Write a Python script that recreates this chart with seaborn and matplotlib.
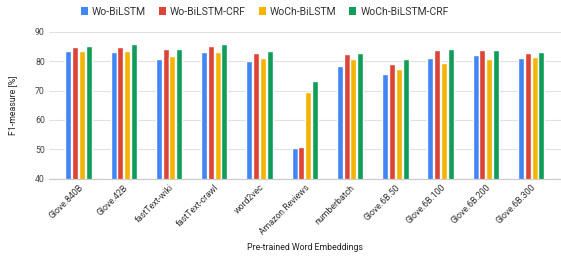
import matplotlib
matplotlib.use("Agg")
import matplotlib.pyplot as plt
import seaborn as sns
import pandas as pd
from matplotlib.patches import Patch

categories = ["Glove.840B", "Glove.42B", "fastText-wiki", "fastText-crawl", "word2vec",
              "Amazon Reviews", "numberbatch", "Glove.6B.50", "Glove.6B.100",
              "Glove.6B.200", "Glove.6B.300"]
series_names = ["Wo-BiLSTM", "Wo-BiLSTM-CRF", "WoCh-BiLSTM", "WoCh-BiLSTM-CRF"]
wo_bilstm = [83.4, 83.0, 80.7, 83.0, 80.0, 50.4, 78.3, 75.8, 81.2, 82.1, 81.2]
wo_bilstm_crf = [84.8, 84.8, 84.3, 85.2, 82.8, 50.7, 82.3, 78.9, 83.8, 83.7, 82.8]
woch_bilstm = [83.4, 83.4, 81.6, 83.2, 81.2, 69.5, 80.7, 77.5, 79.3, 80.7, 81.4]
woch_bilstm_crf = [85.0, 86.0, 84.3, 85.7, 83.4, 73.3, 82.8, 80.6, 84.0, 83.7, 83.2]
yticks = [40, 50, 60, 70, 80, 90]

colors = ["#4285F4", "#DB4437", "#F4B400", "#0F9D58"]

rows = []
for name, vals in zip(series_names, [wo_bilstm, wo_bilstm_crf, woch_bilstm, woch_bilstm_crf]):
    for c, v in zip(categories, vals):
        rows.append({"cat": c, "series": name, "value": v})
df = pd.DataFrame(rows)

sns.set_style("white")
plt.rcParams["font.family"] = ["Roboto", "DejaVu Sans"]

fig = plt.figure(figsize=(5.61, 2.60), dpi=100)
ax = fig.add_axes([0.0873, 0.3127, 0.9127, 0.565])

sns.barplot(data=df, x="cat", y="value", hue="series", order=categories,
            hue_order=series_names, palette=colors, width=0.6, gap=0.12,
            saturation=1, ax=ax, legend=False)

ax.set_ylim(40, 90)
ax.set_yticks(yticks)
ax.set_yticklabels([str(t) for t in yticks], fontsize=6.3, color="#444444")
ax.set_xlim(-0.652, 10.66)
ax.set_xticks(range(len(categories)))
ax.set_xticklabels(categories, rotation=45, ha="right", rotation_mode="anchor",
                   fontsize=6.3, color="#333333")
ax.tick_params(axis="both", length=0, pad=3)
ax.grid(axis="y", color="#e0e0e0", linewidth=0.8)
ax.set_axisbelow(True)
for s in ["top", "right", "left"]:
    ax.spines[s].set_visible(False)
ax.spines["bottom"].set_color("#cccccc")
ax.spines["bottom"].set_linewidth(0.9)

ax.set_xlabel("Pre-trained Word Embeddings", fontsize=6.3, color="#222222", labelpad=5)
ax.set_ylabel("F1-measure [%]", fontsize=6.3, color="#222222", labelpad=13)

handles = [Patch(facecolor=c, edgecolor="none") for c in colors]
fig.legend(handles, series_names, loc="upper center", bbox_to_anchor=(0.472, 1.01),
           ncol=4, frameon=False, fontsize=7.5, handlelength=0.7, handleheight=0.7,
           handletextpad=0.4, columnspacing=1.2, labelcolor="#333333")

fig.savefig("out.png", dpi=100)
